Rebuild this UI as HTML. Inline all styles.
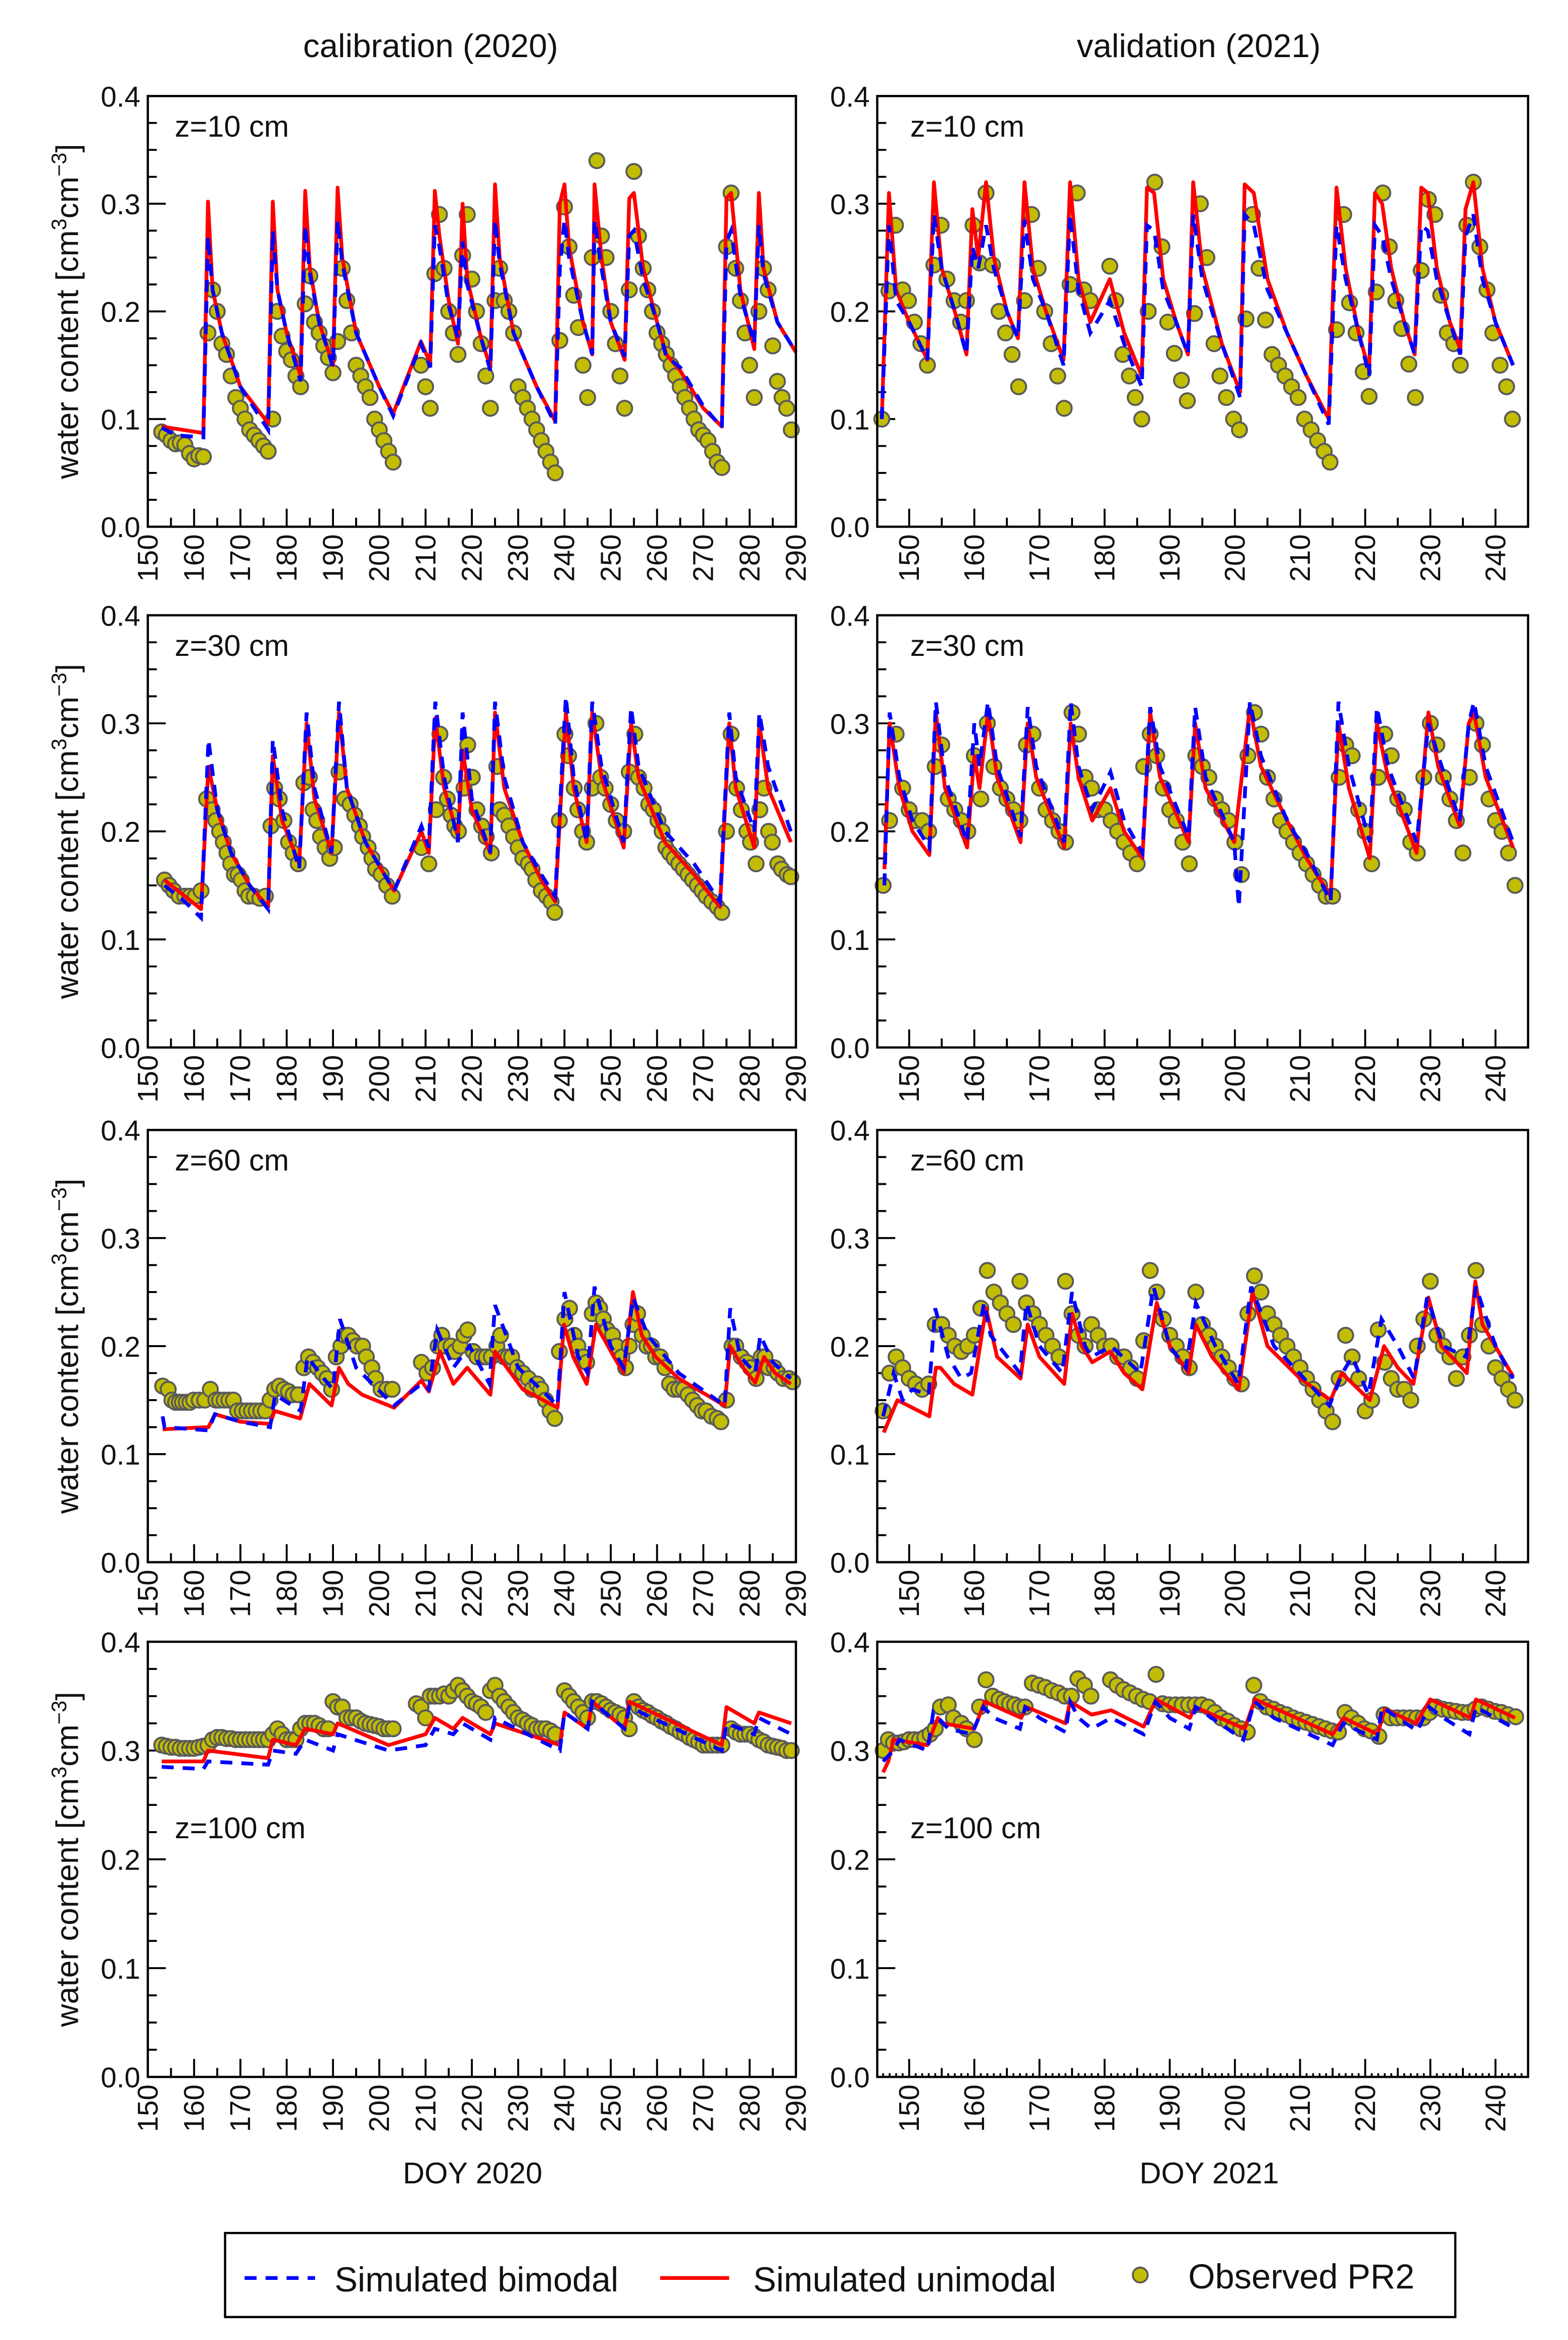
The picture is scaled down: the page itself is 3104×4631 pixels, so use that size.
<!DOCTYPE html>
<html><head><meta charset="utf-8">
<style>
html,body{margin:0;padding:0;background:#fff;}
svg{display:block;}
text{font-family:"Liberation Sans","DejaVu Sans",sans-serif;fill:#111;}
</style></head>
<body>
<svg id="fig" xmlns="http://www.w3.org/2000/svg" width="3104" height="4631" viewBox="0 0 1045.1 1559.3">
<rect x="0" y="0" width="1045.1" height="1559.3" fill="#fff"/>
<text x="287" y="38" font-size="22" text-anchor="middle">calibration (2020)</text>
<text x="799" y="38" font-size="22" text-anchor="middle">validation (2021)</text>
<text x="315" y="1455" font-size="20" text-anchor="middle">DOY 2020</text>
<text x="806" y="1455" font-size="20" text-anchor="middle">DOY 2021</text>
<g id="panels"></g>
<g>
<rect x="150" y="1488" width="820" height="56" fill="#fff" stroke="#000" stroke-width="1.5"/>
<line x1="163" y1="1518" x2="210" y2="1518" stroke="#0000ff" stroke-width="2.5" stroke-dasharray="8,6"/>
<text x="223" y="1527" font-size="23">Simulated bimodal</text>
<line x1="440" y1="1518" x2="486" y2="1518" stroke="#ff0000" stroke-width="2.5"/>
<text x="502" y="1527" font-size="23">Simulated unimodal</text>
<circle cx="760" cy="1516" r="5" fill="#c2bd00" stroke="#555" stroke-width="1.2"/>
<text x="792" y="1525" font-size="23">Observed PR2</text>
</g>
</svg>
<script>
// ===== data: [DOY, water content] =====
const cal10Uni=[[153,.093],[162,.087],[163,.302],[164,.22],[166,.18],[170,.13],[176,.096],[177,.302],[178,.22],[180,.18],[183,.14],[184,.312],[185,.24],[187,.19],[190,.15],[191,.315],[192,.25],[195,.18],[200,.13],[203,.105],[209,.172],[211,.152],[212,.312],[213,.27],[215,.21],[217,.17],[218,.30],[219,.23],[222,.175],[224,.148],[225,.318],[226,.25],[229,.18],[234,.13],[238,.098],[239,.30],[240,.318],[241,.26],[244,.19],[246,.16],[246.5,.318],[248,.25],[250,.19],[253,.155],[254,.305],[255,.31],[257,.24],[260,.19],[262,.16],[265,.145],[270,.11],[274,.093],[275,.305],[276,.31],[278,.22],[281,.165],[282,.31],[283,.24],[286,.19],[290,.162]];
const cal10Bi=[[153,.092],[156,.085],[162,.083],[163,.27],[164,.22],[166,.18],[170,.13],[176,.09],[177,.275],[178,.22],[180,.18],[183,.135],[184,.28],[185,.235],[187,.19],[190,.148],[191,.285],[192,.245],[195,.18],[200,.13],[203,.103],[209,.17],[211,.148],[212,.28],[213,.26],[215,.205],[217,.175],[218,.265],[219,.225],[222,.175],[224,.145],[225,.285],[226,.245],[229,.18],[234,.13],[238,.095],[239,.24],[240,.285],[241,.25],[244,.19],[246,.16],[246.5,.285],[248,.24],[250,.19],[253,.158],[254,.27],[255,.275],[257,.23],[260,.19],[262,.158],[265,.148],[270,.112],[274,.092],[275,.265],[276,.275],[278,.215],[281,.17],[282,.28],[283,.235],[286,.19],[290,.162]];
const cal10Obs=[[153,.088],[154,.085],[155,.08],[156,.077],[157,.078],[158,.076],[159,.068],[160,.063],[161,.066],[162,.065],[163,.18],[164,.22],[165,.20],[166,.17],[167,.16],[168,.14],[169,.12],[170,.11],[171,.10],[172,.09],[173,.085],[174,.08],[175,.075],[176,.07],[177,.10],[178,.20],[179,.177],[180,.163],[181,.155],[182,.14],[183,.13],[184,.207],[185,.233],[186,.19],[187,.18],[188,.168],[189,.157],[190,.143],[191,.172],[192,.24],[193,.21],[194,.18],[195,.15],[196,.14],[197,.13],[198,.12],[199,.10],[200,.09],[201,.08],[202,.07],[203,.06],[209,.15],[210,.13],[211,.11],[212,.235],[213,.29],[214,.24],[215,.20],[216,.18],[217,.16],[218,.252],[219,.29],[220,.23],[221,.20],[222,.17],[223,.14],[224,.11],[225,.21],[226,.24],[227,.21],[228,.20],[229,.18],[230,.13],[231,.12],[232,.11],[233,.10],[234,.09],[235,.08],[236,.07],[237,.06],[238,.05],[239,.173],[240,.297],[241,.26],[242,.215],[243,.185],[244,.15],[245,.12],[246,.25],[247,.34],[248,.27],[249,.25],[250,.20],[251,.17],[252,.14],[253,.11],[254,.22],[255,.33],[256,.27],[257,.24],[258,.22],[259,.20],[260,.18],[261,.17],[262,.16],[263,.15],[264,.14],[265,.13],[266,.12],[267,.11],[268,.10],[269,.09],[270,.085],[271,.08],[272,.07],[273,.06],[274,.055],[275,.26],[276,.31],[277,.24],[278,.21],[279,.18],[280,.15],[281,.12],[282,.20],[283,.24],[284,.22],[285,.168],[286,.135],[287,.12],[288,.11],[289,.09]];

const val10Uni=[[145.8,.10],[146.9,.31],[148,.22],[150,.19],[152.8,.155],[153.8,.32],[155,.24],[157,.20],[158.8,.16],[159.7,.295],[160.6,.25],[161.8,.32],[163,.25],[165,.20],[166.7,.175],[167.7,.32],[169,.24],[171,.20],[173.7,.155],[174.7,.32],[176,.23],[177.8,.19],[180.8,.23],[183,.18],[185.7,.14],[186.5,.315],[187.6,.31],[189,.23],[191,.19],[192.8,.16],[193.6,.32],[195,.24],[198,.17],[200.8,.125],[201.5,.318],[202.9,.31],[205,.23],[208,.18],[211,.14],[214.4,.10],[215.6,.315],[217,.24],[219,.18],[220.6,.145],[221.5,.31],[222.6,.30],[224,.24],[226,.19],[227.6,.16],[228.6,.315],[229.6,.31],[231,.24],[233,.19],[234.6,.165],[235.4,.295],[236.6,.32],[238,.24],[240,.19],[242.7,.15]];
const val10Bi=[[145.8,.10],[146.9,.28],[148,.21],[150,.19],[152.8,.155],[153.8,.29],[155,.24],[157,.20],[158.8,.16],[159.7,.26],[160.6,.24],[161.8,.28],[163,.24],[165,.20],[166.7,.175],[167.7,.285],[169,.23],[171,.20],[173.7,.15],[174.7,.29],[176,.22],[177.8,.18],[180.8,.21],[183,.17],[185.7,.13],[186.5,.28],[187.6,.275],[189,.22],[191,.19],[192.8,.16],[193.6,.29],[195,.23],[198,.17],[200.8,.12],[201.5,.29],[202.9,.28],[205,.22],[208,.18],[211,.14],[214.4,.095],[215.6,.28],[217,.23],[219,.18],[220.6,.14],[221.5,.28],[222.6,.27],[224,.23],[226,.19],[227.6,.16],[228.6,.28],[229.6,.275],[231,.23],[233,.19],[234.6,.16],[235.4,.27],[236.6,.29],[238,.23],[240,.19],[242.7,.15]];
const val10Obs=[[145.8,.10],[146.9,.219],[147.9,.28],[149,.22],[149.9,.21],[150.8,.19],[151.8,.17],[152.8,.15],[153.8,.243],[154.9,.28],[155.8,.23],[156.9,.21],[157.9,.19],[158.8,.21],[159.8,.28],[160.8,.245],[161.8,.31],[162.8,.243],[163.8,.20],[164.8,.18],[165.8,.16],[166.8,.13],[167.7,.21],[168.8,.29],[169.8,.24],[170.8,.20],[171.8,.17],[172.8,.14],[173.8,.11],[174.7,.225],[175.8,.31],[176.8,.22],[177.8,.21],[180.8,.242],[181.7,.21],[182.8,.16],[183.8,.14],[184.7,.12],[185.7,.10],[186.7,.20],[187.7,.32],[188.8,.26],[189.7,.19],[190.7,.161],[191.8,.136],[192.7,.117],[193.8,.198],[194.7,.30],[195.7,.25],[196.8,.17],[197.7,.14],[198.7,.12],[199.8,.10],[200.7,.09],[201.7,.193],[202.7,.29],[203.7,.24],[204.7,.192],[205.7,.16],[206.7,.15],[207.7,.14],[208.7,.13],[209.7,.12],[210.7,.10],[211.7,.09],[212.7,.08],[213.7,.07],[214.6,.06],[215.6,.183],[216.7,.29],[217.6,.208],[218.6,.18],[219.7,.144],[220.6,.121],[221.7,.218],[222.7,.31],[223.7,.26],[224.7,.21],[225.6,.184],[226.7,.151],[227.7,.12],[228.6,.238],[229.7,.304],[230.7,.29],[231.6,.215],[232.6,.18],[233.6,.17],[234.6,.15],[235.6,.28],[236.6,.32],[237.6,.26],[238.7,.22],[239.6,.18],[240.7,.15],[241.7,.13],[242.6,.10]];

const cal30Uni=[[153.6,.155],[161.5,.128],[163.1,.26],[165,.22],[168,.18],[172,.15],[176,.13],[177,.27],[179,.21],[182.7,.17],[184.3,.30],[186,.23],[189.7,.18],[191.3,.31],[193,.24],[197,.19],[203.2,.145],[209.1,.20],[210.7,.18],[212.1,.305],[214,.24],[217,.195],[218,.275],[220,.22],[224,.18],[225,.31],[227,.24],[231,.19],[235,.155],[238,.135],[240.3,.31],[242,.24],[244.8,.19],[246,.31],[248,.25],[252.8,.185],[254.4,.30],[256,.25],[261.7,.19],[268,.16],[273.6,.13],[275.6,.30],[277,.24],[281,.185],[282.1,.30],[284,.24],[288.9,.19]];
const cal30Bi=[[153.6,.15],[158,.135],[161.5,.12],[163.1,.285],[165,.22],[168,.18],[172,.15],[176,.128],[177,.285],[179,.22],[182.7,.165],[184.3,.31],[186,.24],[189.7,.18],[191.3,.32],[193,.24],[197,.19],[203.2,.145],[209.1,.205],[210.7,.185],[212.1,.32],[214,.25],[217,.19],[218,.31],[220,.23],[224,.18],[225,.32],[227,.25],[231,.19],[235,.16],[238,.14],[240.3,.325],[242,.25],[244.8,.19],[246,.32],[248,.26],[252.8,.19],[254.4,.315],[256,.26],[261.7,.20],[268,.17],[273.6,.135],[275.6,.31],[277,.25],[281,.20],[282.1,.31],[284,.26],[288.9,.20]];
const cal30Obs=[[153.6,.155],[154.6,.15],[155.6,.145],[156.8,.14],[158,.14],[159.1,.14],[160.3,.14],[161.5,.145],[162.7,.23],[163.9,.22],[164.7,.21],[165.5,.20],[166.3,.19],[167.1,.18],[167.9,.17],[168.7,.16],[169.5,.16],[170.2,.155],[171,.145],[171.8,.14],[173,.14],[174.2,.138],[175.4,.14],[176.6,.205],[177.4,.24],[178.4,.23],[179.4,.21],[180.4,.19],[181.4,.18],[182.5,.17],[183.7,.245],[184.9,.25],[185.7,.22],[186.5,.21],[187.3,.195],[188.3,.185],[189.3,.175],[190.3,.185],[191.3,.255],[192.5,.23],[193.7,.225],[194.7,.215],[195.7,.205],[196.4,.195],[197.6,.185],[198.4,.175],[199.2,.165],[200.4,.16],[201.6,.15],[202.8,.14],[209.1,.185],[210.7,.17],[212.3,.22],[213.1,.29],[213.9,.25],[214.7,.23],[215.5,.215],[216.3,.205],[217.1,.20],[218.3,.24],[219.1,.28],[220.1,.25],[221.1,.22],[222.1,.205],[223.1,.195],[224.2,.18],[225.4,.26],[226,.22],[227,.215],[228,.205],[229,.195],[230,.185],[231,.175],[232.2,.17],[233,.165],[233.8,.155],[235,.145],[236.1,.14],[237.1,.135],[237.9,.125],[238.9,.21],[240.1,.29],[240.9,.27],[242.1,.24],[242.9,.22],[243.9,.20],[244.8,.19],[246,.24],[246.8,.30],[247.8,.25],[248.8,.24],[250,.225],[251.2,.21],[252.8,.20],[254,.255],[255.2,.29],[256,.25],[257.2,.24],[258.2,.225],[259.2,.22],[260.2,.21],[261.1,.20],[261.9,.185],[262.7,.18],[263.7,.175],[264.7,.17],[265.7,.165],[266.7,.16],[267.7,.155],[268.7,.15],[269.7,.145],[270.6,.14],[271.8,.135],[273,.13],[274,.125],[275,.20],[276,.29],[277.2,.24],[278.2,.22],[279.4,.20],[280.2,.19],[281.4,.17],[282.2,.22],[283.1,.24],[284.1,.20],[284.9,.19],[286.1,.17],[286.9,.165],[288.1,.16],[288.9,.158]];

const val30Uni=[[146.2,.165],[147,.30],[148.5,.24],[150.5,.20],[153.1,.178],[154.1,.31],[155.5,.24],[158.9,.185],[160,.27],[160.8,.24],[162.1,.31],[163.5,.25],[167.1,.19],[168.2,.30],[169.5,.25],[173.8,.185],[174.8,.30],[176,.25],[178.1,.21],[180.9,.24],[183,.20],[185.8,.175],[187,.31],[188.5,.25],[192.9,.19],[193.9,.30],[195.5,.24],[199.9,.19],[202.3,.315],[204,.26],[208,.21],[211,.175],[214.7,.14],[215.9,.30],[217.5,.24],[220.7,.175],[221.8,.30],[223.5,.25],[227.9,.18],[229.7,.31],[231.2,.26],[234.5,.205],[235.9,.30],[236.7,.31],[238.5,.25],[242.7,.185]];
const val30Bi=[[146.2,.15],[147,.31],[148.5,.25],[150.5,.21],[153.1,.185],[154.1,.32],[155.5,.25],[158.9,.19],[160,.30],[160.8,.26],[162.1,.32],[163.5,.26],[167.1,.195],[168.2,.315],[169.5,.26],[173.8,.19],[174.8,.32],[176,.26],[178.1,.22],[180.9,.255],[183,.21],[185.8,.18],[187,.315],[188.5,.26],[192.9,.195],[193.9,.315],[195.5,.25],[199.9,.19],[200.6,.13],[202.3,.32],[204,.27],[208,.21],[211,.18],[214.7,.135],[215.9,.32],[217.5,.26],[220.7,.19],[221.8,.315],[223.5,.26],[227.9,.19],[229.7,.30],[231.2,.27],[234.5,.21],[235.9,.30],[236.7,.32],[238.5,.26],[242.7,.19]];
const val30Obs=[[146,.15],[147,.21],[148,.29],[149,.24],[150,.22],[151,.21],[152,.21],[153,.20],[154,.26],[155,.28],[156,.23],[157,.22],[158,.21],[159,.20],[160,.27],[161,.23],[162,.30],[163,.26],[164,.24],[165,.23],[166,.22],[167,.21],[168,.28],[169,.29],[170,.24],[171,.22],[172,.21],[173,.20],[174,.19],[175,.31],[176,.29],[177,.25],[178,.24],[179,.22],[180,.22],[181,.21],[182,.20],[183,.19],[184,.18],[185,.17],[186,.26],[187,.29],[188,.27],[189,.24],[190,.22],[191,.21],[192,.19],[193,.17],[194,.27],[195,.26],[196,.25],[197,.23],[198,.22],[199,.21],[200,.19],[201,.16],[202,.27],[203,.31],[204,.29],[205,.25],[206,.23],[207,.21],[208,.20],[209,.19],[210,.18],[211,.17],[212,.16],[213,.15],[214,.14],[215,.14],[216,.25],[217,.28],[218,.27],[219,.22],[220,.20],[221,.17],[222,.25],[223,.29],[224,.27],[225,.23],[226,.22],[227,.19],[228,.18],[229,.25],[230,.30],[231,.28],[232,.25],[233,.23],[234,.21],[235,.18],[236,.25],[237,.30],[238,.28],[239,.23],[240,.21],[241,.20],[242,.18],[243,.15]];

const cal60Uni=[[153.2,.123],[163.1,.125],[164.5,.137],[170,.13],[176.4,.128],[177.4,.14],[182.9,.133],[184.9,.165],[189.7,.145],[191.3,.18],[193.3,.165],[196.3,.155],[203.2,.143],[209.1,.168],[210.7,.158],[213.1,.195],[216,.165],[219,.18],[224,.155],[225,.195],[231,.16],[238.5,.143],[239.9,.22],[241.9,.19],[244.8,.165],[246.8,.22],[250.7,.19],[252.8,.175],[254.8,.25],[256.7,.21],[259.7,.19],[264.7,.17],[274.6,.145],[275.8,.20],[278.6,.18],[281.2,.166],[283.1,.19],[285.5,.175],[288.9,.165]];
const cal60Bi=[[153.2,.135],[153.6,.125],[163.1,.122],[164.5,.137],[170,.13],[176.4,.125],[177.5,.155],[183,.14],[184.5,.19],[188,.17],[190,.16],[191.5,.225],[195,.18],[203.2,.145],[209.1,.165],[210.7,.16],[212.5,.215],[216,.18],[219.5,.20],[223.8,.165],[225,.238],[230,.18],[238.5,.145],[240,.25],[243,.19],[245,.175],[246.5,.255],[250,.20],[252.8,.18],[254.8,.245],[258,.21],[264.7,.175],[274.6,.145],[275.8,.235],[278,.19],[281.2,.175],[282.3,.21],[285,.185],[288.9,.17]];
const cal60Obs=[[153.2,.163],[154.4,.16],[155.2,.15],[156,.148],[156.8,.148],[157.5,.148],[158.3,.148],[159.1,.148],[159.9,.15],[161.1,.15],[162.3,.15],[163.5,.16],[164.7,.15],[165.5,.15],[166.5,.15],[167.5,.15],[168.5,.15],[169.4,.14],[170.4,.14],[171.4,.14],[172.4,.14],[173.4,.14],[174.4,.14],[175.4,.14],[176.4,.15],[177.4,.16],[178.4,.163],[179.4,.16],[180.4,.158],[181.4,.155],[182.5,.155],[183.7,.18],[184.7,.19],[185.7,.185],[186.7,.18],[187.7,.175],[188.7,.17],[189.7,.16],[190.7,.19],[191.7,.20],[192.5,.21],[193.3,.21],[194.3,.205],[195.2,.20],[196.4,.20],[197.2,.19],[198.4,.18],[199.2,.17],[200.4,.16],[201.6,.16],[202.8,.16],[209.1,.185],[210.3,.175],[211.5,.18],[212.7,.20],[213.5,.21],[214.3,.20],[215.5,.20],[216.3,.195],[217.5,.20],[218.3,.21],[219.1,.215],[220.3,.195],[221.1,.19],[222.3,.19],[223.1,.19],[224.2,.19],[225.4,.20],[226.2,.21],[227,.19],[227.8,.19],[228.6,.19],[229.8,.18],[231,.175],[232.2,.17],[233,.16],[234.1,.165],[234.9,.16],[235.9,.15],[236.9,.14],[237.9,.133],[238.9,.195],[240.1,.225],[241.1,.235],[242.1,.21],[242.9,.20],[244.1,.19],[244.8,.185],[246,.23],[246.8,.24],[247.6,.235],[248.4,.225],[249.2,.215],[250.4,.21],[251.2,.20],[252.4,.19],[253.2,.18],[254,.20],[254.8,.22],[255.8,.23],[256.8,.21],[257.8,.20],[258.8,.20],[259.7,.19],[260.7,.19],[261.7,.18],[262.7,.165],[263.7,.16],[264.7,.16],[265.7,.16],[266.7,.155],[267.7,.15],[268.7,.145],[269.7,.14],[270.6,.14],[271.8,.135],[273,.133],[273.8,.13],[275,.15],[276.2,.20],[277,.20],[278.2,.19],[279.4,.185],[280.2,.18],[281.4,.17],[282.5,.19],[283.3,.19],[284.1,.18],[285.3,.18],[286.1,.175],[287.3,.17],[288.5,.17],[289.3,.167]];

const val60Uni=[[146.1,.12],[148.2,.15],[153.1,.135],[154.1,.18],[154.8,.18],[156.9,.165],[159.7,.155],[161.8,.235],[163.5,.19],[167.1,.17],[168.2,.22],[170,.19],[173.8,.165],[175,.23],[176.5,.20],[178.1,.185],[180.9,.195],[183,.175],[185.8,.16],[188,.24],[190,.20],[192.9,.175],[194,.22],[196.5,.19],[200.6,.16],[202.7,.25],[205,.20],[210,.17],[214.7,.15],[216.4,.175],[220.7,.15],[222.9,.20],[225,.18],[227.4,.165],[229.7,.245],[231.7,.20],[235.6,.175],[236.9,.26],[238,.22],[242.7,.172]];
const val60Bi=[[146,.135],[147.6,.175],[149,.15],[150.5,.16],[153,.155],[154,.235],[156,.19],[158,.17],[159.5,.175],[161.5,.24],[162.5,.21],[167,.175],[168,.24],[170,.20],[173.5,.175],[175,.25],[177,.20],[178,.19],[181,.20],[185.5,.175],[187.5,.255],[190,.20],[192.5,.18],[194,.24],[197,.20],[200.5,.165],[202.5,.255],[206,.20],[214.5,.145],[216.5,.175],[218,.19],[220.5,.155],[222.5,.225],[225,.20],[227.5,.17],[229.5,.245],[232,.20],[235.5,.19],[237,.255],[240,.20],[242.7,.17]];
const val60Obs=[[146,.14],[147,.175],[148,.19],[149,.18],[150,.17],[151,.165],[152,.16],[153,.165],[154,.22],[155,.22],[156,.21],[157,.20],[158,.195],[159,.20],[160,.21],[161,.235],[162,.27],[163,.25],[164,.24],[165,.23],[166,.22],[167,.26],[168,.24],[169,.23],[170,.22],[171,.21],[172,.20],[173,.19],[174,.26],[175,.23],[176,.21],[177,.20],[178,.22],[179,.21],[180,.20],[181,.20],[182,.19],[183,.19],[184,.18],[185,.17],[186,.205],[187,.27],[188,.25],[189,.225],[190,.21],[191,.20],[192,.19],[193,.18],[194,.25],[195,.22],[196,.21],[197,.20],[198,.19],[199,.18],[200,.17],[201,.165],[202,.23],[203,.265],[204,.25],[205,.23],[206,.22],[207,.21],[208,.20],[209,.19],[210,.18],[211,.17],[212,.16],[213,.15],[214,.14],[215,.13],[216,.17],[217,.21],[218,.19],[219,.17],[220,.14],[221,.15],[222,.215],[223,.185],[224,.17],[225,.16],[226,.16],[227,.15],[228,.20],[229,.225],[230,.26],[231,.21],[232,.20],[233,.19],[234,.17],[235,.19],[236,.21],[237,.27],[238,.22],[239,.20],[240,.18],[241,.17],[242,.16],[243,.15]];

const cal100Uni=[[153,.29],[162,.29],[163,.30],[176,.293],[177,.31],[182,.305],[184,.32],[190,.315],[191,.325],[202,.305],[210,.315],[212,.33],[216,.32],[218,.33],[224,.315],[225,.325],[239,.305],[240,.335],[245,.32],[246,.345],[253,.32],[254,.345],[274,.305],[275,.34],[281,.325],[282,.335],[289,.325]];
const cal100Bi=[[153,.285],[162,.283],[163,.29],[176,.287],[177,.30],[182,.297],[184,.31],[190,.30],[191,.315],[202,.30],[210,.305],[212,.32],[216,.315],[218,.325],[224,.31],[225,.33],[239,.30],[240,.335],[245,.32],[246,.345],[253,.32],[254,.34],[274,.30],[275,.325],[281,.315],[282,.33],[289,.315]];
const cal100Obs=[[153,.305],[154,.304],[155,.303],[156,.303],[157,.302],[158,.302],[159,.302],[160,.302],[161,.303],[162,.304],[163,.305],[164,.31],[165,.312],[166,.312],[167,.311],[168,.311],[169,.31],[170,.31],[171,.31],[172,.31],[173,.31],[174,.31],[175,.31],[176,.31],[177,.315],[178,.32],[179,.315],[180,.31],[181,.31],[182,.31],[183,.32],[184,.325],[185,.325],[186,.325],[187,.323],[188,.32],[189,.32],[190,.345],[191,.34],[192,.34],[193,.33],[194,.33],[195,.33],[196,.327],[197,.325],[198,.324],[199,.323],[200,.322],[201,.32],[202,.32],[203,.32],[208,.343],[209,.34],[210,.33],[211,.35],[212,.35],[213,.35],[214,.352],[215,.35],[216,.355],[217,.36],[218,.355],[219,.35],[220,.345],[221,.343],[222,.34],[223,.335],[224,.355],[225,.36],[226,.35],[227,.345],[228,.34],[229,.335],[230,.33],[231,.328],[232,.325],[233,.323],[234,.32],[235,.32],[236,.32],[237,.318],[238,.315],[240,.355],[241,.35],[242,.345],[243,.34],[244,.335],[245,.33],[246,.345],[247,.345],[248,.343],[249,.34],[250,.337],[251,.335],[252,.333],[253,.33],[254,.32],[255,.345],[256,.34],[257,.337],[258,.335],[259,.332],[260,.33],[261,.327],[262,.325],[263,.322],[264,.32],[265,.317],[266,.315],[267,.312],[268,.31],[269,.308],[270,.305],[271,.305],[272,.305],[273,.305],[274,.305],[276,.32],[277,.317],[278,.315],[279,.315],[280,.315],[281,.313],[282,.31],[283,.308],[284,.305],[285,.304],[286,.303],[287,.302],[288,.30],[289,.30]];

const val100Uni=[[146,.28],[146.8,.29],[147.6,.31],[152.8,.305],[154.4,.33],[155.2,.325],[160,.32],[161.6,.345],[167.2,.33],[168,.34],[174,.325],[174.7,.345],[178,.333],[181,.337],[186,.322],[187.9,.347],[193.1,.33],[193.9,.34],[201.5,.32],[203.1,.347],[215,.315],[216.7,.33],[221.9,.315],[223,.338],[227.8,.325],[230,.347],[236.2,.33],[237,.347],[243,.33]];
const val100Bi=[[146,.29],[147.6,.30],[148.5,.31],[152.8,.30],[153.7,.335],[156,.32],[159.6,.315],[161.4,.34],[163,.33],[167,.32],[167.8,.34],[170,.33],[174,.317],[174.7,.345],[176,.33],[178,.32],[181,.33],[186,.315],[187.8,.345],[190,.33],[193,.32],[194,.34],[201.3,.31],[203,.345],[206,.33],[215,.305],[216.6,.325],[221.8,.31],[222.6,.34],[225,.33],[228,.318],[229.8,.34],[232,.33],[236,.315],[237,.34],[243,.32]];
const val100Obs=[[146,.30],[146.8,.31],[147.6,.307],[148.4,.307],[149.2,.308],[150,.31],[150.8,.31],[151.6,.31],[152.4,.312],[153.2,.315],[154,.32],[154.8,.34],[156,.342],[156.8,.33],[158,.325],[158.8,.32],[160,.31],[160.8,.34],[161.8,.365],[162.8,.35],[163.8,.347],[164.6,.345],[165.4,.343],[166.2,.342],[167,.34],[167.8,.34],[168.9,.362],[169.9,.36],[170.9,.358],[171.9,.355],[172.9,.353],[173.9,.35],[174.9,.35],[175.9,.366],[176.9,.36],[177.9,.35],[180.9,.365],[181.9,.36],[182.9,.356],[183.9,.353],[184.9,.35],[185.9,.347],[186.9,.345],[187.9,.37],[188.9,.343],[189.9,.342],[190.9,.342],[191.9,.342],[192.9,.342],[193.9,.342],[194.9,.342],[195.9,.34],[196.9,.335],[197.9,.33],[198.9,.327],[199.9,.323],[200.9,.32],[201.9,.317],[202.9,.36],[203.9,.345],[204.9,.34],[205.9,.338],[206.9,.335],[207.9,.333],[208.9,.33],[209.9,.328],[210.9,.326],[211.9,.324],[212.9,.322],[213.9,.32],[214.9,.318],[215.9,.317],[216.9,.335],[217.9,.33],[218.9,.325],[219.9,.32],[220.9,.318],[222.1,.313],[222.9,.333],[223.9,.33],[224.9,.33],[225.9,.33],[226.9,.33],[227.9,.33],[228.9,.33],[229.9,.335],[230.9,.34],[231.9,.338],[232.9,.337],[233.9,.336],[234.9,.335],[235.9,.335],[236.9,.338],[237.9,.34],[238.9,.338],[239.9,.336],[240.9,.335],[241.9,.333],[243.1,.331]];

const zLabels=["z=10 cm","z=30 cm","z=60 cm","z=100 cm"];
const yTickLabels=["0.0","0.1","0.2","0.3","0.4"];
const calXTicks=[150,160,170,180,190,200,210,220,230,240,250,260,270,280,290];
const valXTicks=[150,160,170,180,190,200,210,220,230,240];

const calSeries=[[cal10Uni,cal10Bi,cal10Obs],[cal30Uni,cal30Bi,cal30Obs],[cal60Uni,cal60Bi,cal60Obs],[cal100Uni,cal100Bi,cal100Obs]];
const valSeries=[[val10Uni,val10Bi,val10Obs],[val30Uni,val30Bi,val30Obs],[val60Uni,val60Bi,val60Obs],[val100Uni,val100Bi,val100Obs]];

// ===== layout =====
const NS="http://www.w3.org/2000/svg";
const rowsY=[[64,351],[410,698],[753,1041],[1094,1384]];
const cols=[{x0:98.5,x1:530.5,d0:150,d1:290,ticks:calXTicks,series:calSeries,name:"cal"},
            {x0:584.7,x1:1018.5,d0:145.1,d1:245.0,ticks:valXTicks,series:valSeries,name:"val"}];
const root=document.getElementById('panels');
function mk(tag,attrs,parent){const e=document.createElementNS(NS,tag);for(const k in attrs)e.setAttribute(k,attrs[k]);parent.appendChild(e);return e;}

cols.forEach((c,ci)=>{
  rowsY.forEach((r,ri)=>{
    const [y0,y1]=r;
    const sx=d=>c.x0+(d-c.d0)/(c.d1-c.d0)*(c.x1-c.x0);
    const sy=v=>y1-(v/0.4)*(y1-y0);
    const g=mk('g',{},root);
    
    
    // ticks y
    for(let i=0;i<=16;i++){
      const v=i*0.025, y=sy(v), major=i%4===0;
      const t=mk('line',{x1:c.x0,x2:c.x0+(major?12:6),y1:y,y2:y,stroke:'#000','stroke-width':1.3},g);
      
      
    }
    yTickLabels.forEach((lab,i)=>{
      const t=mk('text',{x:c.x0-5,y:sy(i*0.1)+7,'font-size':19,'text-anchor':'end'},g);
      t.textContent=lab;
      
      
    });
    // ticks x
    for(let d=Math.ceil(c.d0/5)*5; d<=c.d1+0.01; d+=5){
      const major=d%10===0, x=sx(d);
      const t=mk('line',{x1:x,x2:x,y1:y1,y2:y1-(major?12:6),stroke:'#000','stroke-width':1.3},g);
      
      
    }
    if(ci===1 && ri===3){
      for(let d=146; d<=244; d++){
        if(d%5===0) continue;
        const t=mk('line',{x1:sx(d),x2:sx(d),y1:y1,y2:y1-2.5,stroke:'#000','stroke-width':1.2},g);
        
        
      }
    }
    c.ticks.forEach(d=>{
      const x=sx(d);
      const t=mk('text',{x:0,y:0,'font-size':19,'text-anchor':'end',transform:`translate(${x+6.5},${y1+5}) rotate(-90)`},g);
      t.textContent=d;
      
      
    });
    // y axis title
    if(true){
      const cy=(y0+y1)/2, tx=ci===0?52:545;
      const t=mk('text',{x:0,y:0,'font-size':21,'text-anchor':'middle',transform:`translate(${tx},${cy}) rotate(-90)`},g);
      t.innerHTML='water content [cm<tspan dy="-8" font-size="14">3</tspan><tspan dy="8">cm</tspan><tspan dy="-8" font-size="14">−3</tspan><tspan dy="8">]</tspan>';
      
      
      if(ci===1) t.setAttribute('visibility','hidden');
    }
    const [uni,bi,obs]=c.series[ri];
    // observations
    const og=mk('g',{},g);
    
    
    obs.forEach(p=>{
      const m=mk('circle',{cx:sx(p[0]),cy:sy(p[1]),r:5,fill:'#c2bd00',stroke:'#5a5a5a','stroke-width':1.3},og);
      
      
    });
    const uPath=mk('polyline',{points:uni.map(p=>sx(p[0]).toFixed(2)+','+sy(p[1]).toFixed(2)).join(' '),fill:'none',stroke:'#ff0000','stroke-width':2.5,'stroke-linejoin':'round'},g);
    
    
    const bPath=mk('polyline',{points:bi.map(p=>sx(p[0]).toFixed(2)+','+sy(p[1]).toFixed(2)).join(' '),fill:'none',stroke:'#0000ff','stroke-width':2.5,'stroke-dasharray':'8,6'},g);
    
    
    // frame
    const f=mk('rect',{x:c.x0,y:y0,width:c.x1-c.x0,height:y1-y0,fill:'none',stroke:'#000','stroke-width':1.5},g);
    
    
    // depth label
    const ly=ri===3?y0+131:y0+27;
    const zl=mk('text',{x:c.x0+(ci===0?18:22),y:ly,'font-size':20},g);
    zl.textContent=zLabels[ri];
    
    
  });
});
</script>
</body></html>
